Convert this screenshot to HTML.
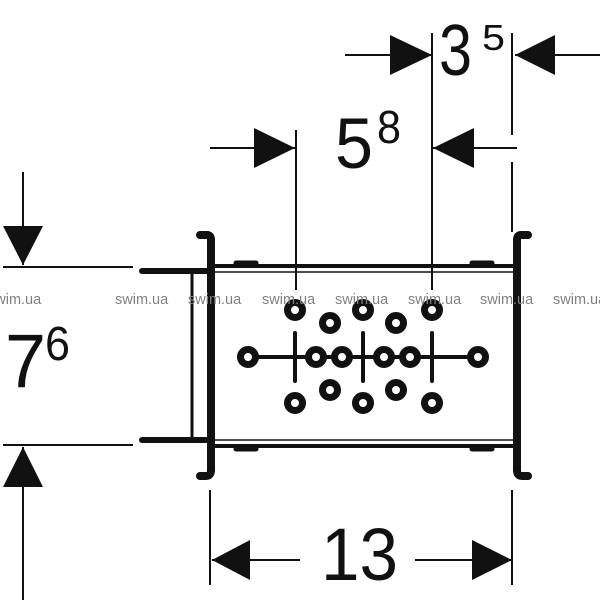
<!DOCTYPE html>
<html><head><meta charset="utf-8"><style>
html,body{margin:0;padding:0;background:#fff;width:600px;height:600px;overflow:hidden}
svg{display:block}
text{font-family:"Liberation Sans",sans-serif}
</style></head><body>
<svg width="600" height="600" viewBox="0 0 600 600" xmlns="http://www.w3.org/2000/svg">
<g stroke="#111" fill="none" stroke-width="2">
  <line x1="345" y1="55" x2="432" y2="55"/>
  <line x1="432" y1="33" x2="432" y2="290"/>
  <line x1="512" y1="33" x2="512" y2="135"/>
  <line x1="512" y1="162" x2="512" y2="232"/>
  <line x1="515" y1="55" x2="600" y2="55"/>
  <line x1="210" y1="148" x2="296" y2="148"/>
  <line x1="296" y1="130" x2="296" y2="290"/>
  <line x1="433" y1="148" x2="517" y2="148"/>
  <line x1="23" y1="172" x2="23" y2="265"/>
  <line x1="3" y1="267" x2="133" y2="267"/>
  <line x1="3" y1="445" x2="133" y2="445"/>
  <line x1="23" y1="447" x2="23" y2="600"/>
  <line x1="210" y1="490" x2="210" y2="585"/>
  <line x1="512" y1="490" x2="512" y2="585"/>
  <line x1="212" y1="560" x2="300" y2="560"/>
  <line x1="415" y1="560" x2="512" y2="560"/>
</g>
<g fill="#111">
  <polygon points="432,55 390,35 390,75"/>
  <polygon points="515,55 555,35 555,75"/>
  <polygon points="295,148 254,128 254,168"/>
  <polygon points="433,148 474,128 474,168"/>
  <polygon points="23,265 3,226 43,226"/>
  <polygon points="23,447 3,487 43,487"/>
  <polygon points="212,560 250,540 250,580"/>
  <polygon points="512,560 472,540 472,580"/>
</g>
<g fill="#111">
  <text x="439" y="75" font-size="72" textLength="33" lengthAdjust="spacingAndGlyphs">3</text>
  <text x="482" y="50" font-size="36" textLength="23" lengthAdjust="spacingAndGlyphs">5</text>
  <text x="335" y="168" font-size="71" textLength="38" lengthAdjust="spacingAndGlyphs">5</text>
  <text x="377" y="143" font-size="46" textLength="24" lengthAdjust="spacingAndGlyphs">8</text>
  <text x="5" y="387" font-size="76" textLength="41" lengthAdjust="spacingAndGlyphs">7</text>
  <text x="45" y="360" font-size="48" textLength="25" lengthAdjust="spacingAndGlyphs">6</text>
  <text x="321" y="580" font-size="74" textLength="77" lengthAdjust="spacingAndGlyphs">13</text>
</g>
<g stroke="#111" fill="none" stroke-linecap="round">
  <path d="M200,235 H207 Q211,235 211,240 V470 Q211,476 206,476 H200" stroke-width="8"/>
  <path d="M528,235 H521 Q517,235 517,240 V470 Q517,476 522,476 H528" stroke-width="8"/>
  <line x1="142" y1="271" x2="211" y2="271" stroke-width="6"/>
  <line x1="142" y1="440" x2="211" y2="440" stroke-width="6"/>
  <line x1="192" y1="273" x2="192" y2="438" stroke-width="3"/>
  <line x1="211" y1="266" x2="517" y2="266" stroke-width="4"/>
  <line x1="215" y1="272" x2="513" y2="272" stroke-width="1.5"/>
  <line x1="215" y1="440" x2="513" y2="440" stroke-width="1.5"/>
  <line x1="211" y1="446" x2="517" y2="446" stroke-width="4"/>
  <line x1="236" y1="263" x2="256" y2="263" stroke-width="5"/>
  <line x1="472" y1="263" x2="492" y2="263" stroke-width="5"/>
  <line x1="236" y1="449" x2="256" y2="449" stroke-width="5"/>
  <line x1="472" y1="449" x2="492" y2="449" stroke-width="5"/>
  <line x1="248" y1="357" x2="478" y2="357" stroke-width="4"/>
  <line x1="295" y1="333" x2="295" y2="381" stroke-width="4"/>
  <line x1="363" y1="333" x2="363" y2="381" stroke-width="4"/>
  <line x1="432" y1="333" x2="432" y2="381" stroke-width="4"/>
</g>
<g fill="#fff" stroke="#111" stroke-width="7">
  <circle cx="295" cy="310" r="7.5"/><circle cx="363" cy="310" r="7.5"/><circle cx="432" cy="310" r="7.5"/>
  <circle cx="330" cy="323" r="7.5"/><circle cx="396" cy="323" r="7.5"/>
  <circle cx="248" cy="357" r="7.5"/><circle cx="316" cy="357" r="7.5"/><circle cx="342" cy="357" r="7.5"/>
  <circle cx="384" cy="357" r="7.5"/><circle cx="410" cy="357" r="7.5"/><circle cx="478" cy="357" r="7.5"/>
  <circle cx="330" cy="390" r="7.5"/><circle cx="396" cy="390" r="7.5"/>
  <circle cx="295" cy="403" r="7.5"/><circle cx="363" cy="403" r="7.5"/><circle cx="432" cy="403" r="7.5"/>
</g>
<g fill="#808080" font-size="14.5">
  <text x="-12" y="304">swim.ua</text>
  <text x="115" y="304">swim.ua</text>
  <text x="188" y="304">swim.ua</text>
  <text x="262" y="304">swim.ua</text>
  <text x="335" y="304">swim.ua</text>
  <text x="408" y="304">swim.ua</text>
  <text x="480" y="304">swim.ua</text>
  <text x="553" y="304">swim.ua</text>
</g>
</svg>
</body></html>
